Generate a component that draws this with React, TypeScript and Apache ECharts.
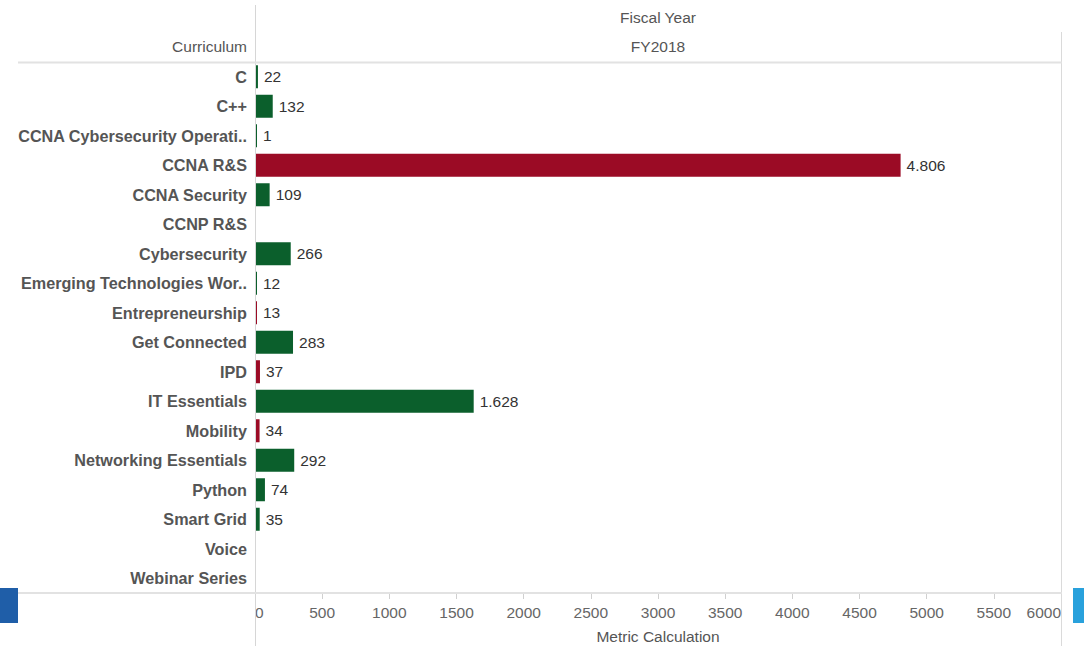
import React, { useEffect, useRef } from "react";
import * as echarts from "echarts";

const categories = [
  "C",
  "C++",
  "CCNA Cybersecurity Operati..",
  "CCNA R&S",
  "CCNA Security",
  "CCNP R&S",
  "Cybersecurity",
  "Emerging Technologies Wor..",
  "Entrepreneurship",
  "Get Connected",
  "IPD",
  "IT Essentials",
  "Mobility",
  "Networking Essentials",
  "Python",
  "Smart Grid",
  "Voice",
  "Webinar Series",
];
const values: (number | null)[] = [22, 132, 1, 4806, 109, null, 266, 12, 13, 283, 37, 1628, 34, 292, 74, 35, null, null];
const isRed = [false, false, false, true, false, false, false, false, true, false, true, false, true, false, false, false, false, false];
const xTicks = { min: 0, max: 6000, interval: 500 };

const GREEN = "#0b5f2c";
const RED = "#9b0b25";
const FONT = "'Liberation Sans', Arial, sans-serif";

function fmt(v: number) {
  return String(Math.round(v)).replace(/\B(?=(\d{3})+(?!\d))/g, ".");
}

export default function App() {
  const ref = useRef<HTMLDivElement>(null);
  useEffect(() => {
    if (!ref.current) return;
    const chart = echarts.init(ref.current, null, { renderer: "svg" });
    const data = values.map((v, i) =>
      v == null
        ? "-"
        : { value: v, itemStyle: { color: isRed[i] ? RED : GREEN } }
    );
    chart.setOption({
      animation: false,
      backgroundColor: "#ffffff",
      textStyle: { fontFamily: FONT },
      grid: { left: 255, right: 23, top: 62, bottom: 53, containLabel: false },
      xAxis: {
        type: "value",
        min: xTicks.min,
        max: xTicks.max,
        interval: xTicks.interval,
        axisLine: { show: false },
        axisTick: { show: true, length: 6, lineStyle: { color: "#d0d0d0" } },
        splitLine: { show: false },
        axisLabel: {
          margin: 11,
          color: "#666666",
          fontSize: 15.5,
          fontFamily: FONT,
          alignMinLabel: "left",
          alignMaxLabel: "right",
          formatter: (v: number) => String(v),
        },
      },
      yAxis: {
        type: "category",
        data: categories,
        inverse: true,
        axisLine: { show: false },
        axisTick: { show: false },
        splitLine: { show: false },
        axisLabel: {
          margin: 8,
          color: "#555555",
          fontSize: 16.2,
          fontWeight: "bold",
          fontFamily: FONT,
        },
      },
      series: [
        {
          type: "bar",
          data,
          barWidth: 23,
          barMinHeight: 2,
          label: {
            show: true,
            position: "right",
            distance: 6,
            color: "#333333",
            fontSize: 15.5,
            fontFamily: FONT,
            formatter: (p: any) => fmt(p.value),
          },
        },
      ],
      graphic: [
        { type: "line", shape: { x1: 255.5, y1: 5, x2: 255.5, y2: 646 }, style: { stroke: "#d6d6d6", lineWidth: 1 }, z: 10 },
        { type: "line", shape: { x1: 1061.5, y1: 32, x2: 1061.5, y2: 646 }, style: { stroke: "#dadada", lineWidth: 1 }, z: 10 },
        { type: "line", shape: { x1: 18, y1: 62.5, x2: 1062, y2: 62.5 }, style: { stroke: "#e2e2e2", lineWidth: 2 }, z: 10 },
        { type: "line", shape: { x1: 18, y1: 593, x2: 1062, y2: 593 }, style: { stroke: "#e2e2e2", lineWidth: 2 }, z: 10 },
        { type: "rect", shape: { x: 0, y: 588, width: 18, height: 35 }, style: { fill: "#1f5ea8" } },
        { type: "rect", shape: { x: 1073, y: 588, width: 11, height: 35 }, style: { fill: "#29a1dc" } },
        {
          type: "text",
          x: 658,
          y: 17,
          style: { text: "Fiscal Year", fill: "#555555", font: `15.5px ${FONT}`, align: "center", verticalAlign: "middle" },
        },
        {
          type: "text",
          x: 658,
          y: 46,
          style: { text: "FY2018", fill: "#555555", font: `15.5px ${FONT}`, align: "center", verticalAlign: "middle" },
        },
        {
          type: "text",
          x: 247,
          y: 46,
          style: { text: "Curriculum", fill: "#555555", font: `15.5px ${FONT}`, align: "right", verticalAlign: "middle" },
        },
        {
          type: "text",
          x: 658,
          y: 636,
          style: { text: "Metric Calculation", fill: "#555555", font: `15.5px ${FONT}`, align: "center", verticalAlign: "middle" },
        },
      ],
    });
    return () => chart.dispose();
  }, []);
  return (
    <div
      ref={ref}
      style={{ position: "absolute", left: 0, top: 0, width: 1084, height: 646 }}
    />
  );
}
